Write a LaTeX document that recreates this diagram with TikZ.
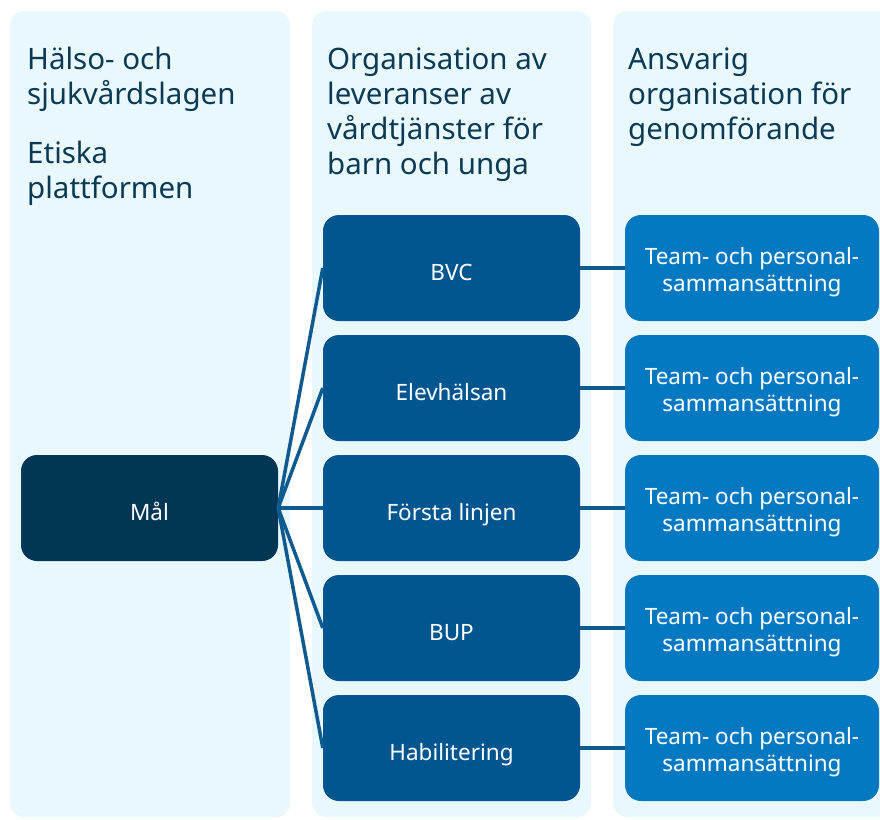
\documentclass[tikz,border=0pt]{standalone}
\usepackage{fontspec}
\setmainfont{Noto Sans}

\definecolor{colbg}{HTML}{E9F8FD}
\definecolor{headtext}{HTML}{0B3A55}
\definecolor{goalblue}{HTML}{023655}
\definecolor{midblue}{HTML}{02568F}
\definecolor{teamblue}{HTML}{0479C1}
\definecolor{linkblue}{HTML}{0F5A8E}

\tikzset{
  column/.style={fill=colbg, rounded corners=14pt},
  heading/.style={anchor=base west, align=left, inner sep=0pt, text=headtext,
    font=\fontsize{29.5}{35}\selectfont},
  box/.style={rounded corners=16pt, minimum width=257pt, minimum height=106pt,
    text=white, align=center, inner sep=0pt, text height=24pt, text depth=0pt,
    font=\fontsize{22.5}{27}\selectfont},
  goalbox/.style={box, fill=goalblue},
  servicebox/.style={box, fill=midblue},
  teambox/.style={box, fill=teamblue, minimum width=254pt, text height=46pt},
  link/.style={draw=linkblue, line width=3.5pt}
}

\begin{document}
\begin{tikzpicture}[x=1pt,y=-1pt]
  \useasboundingbox (0,0) rectangle (880,819);
  \clip (0,0) rectangle (880,819);
  \fill[white] (0,0) rectangle (880,819);

  % kolumner
  \fill[column] (10,11) rectangle (290,817);
  \fill[column] (312,11) rectangle (591,817);
  \fill[column] (613,11) rectangle (905,817);

  % rubriker (ankare = sista radens baslinje)
  \node[heading] (lag) at (27,104) {Hälso- och\\sjukvårdslagen};
  \node[heading] (etik) at (27,198) {Etiska\\plattformen};
  \node[heading] (org) at (327,174) {Organisation av\\leveranser av\\vårdtjänster för\\barn och unga};
  \node[heading] (ansv) at (628,139) {Ansvarig\\organisation för\\genomförande};

  % mål
  \node[goalbox] (mal) at (149.5,508) {Mål};

  % verksamheter och team
  \foreach \name/\label [count=\i] in {bvc/BVC, elev/Elevhälsan, forsta/Första linjen, bup/BUP, hab/Habilitering}{
    \node[servicebox] (\name) at (451.5,148+120*\i) {\label};
    \node[teambox] (team\i) at (752,148+120*\i) {Team- och personal-\\sammansättning};
    \draw[link] (mal.east) -- (\name.west);
    \draw[link] (\name.east) -- (team\i.west);
  }
\end{tikzpicture}
\end{document}
